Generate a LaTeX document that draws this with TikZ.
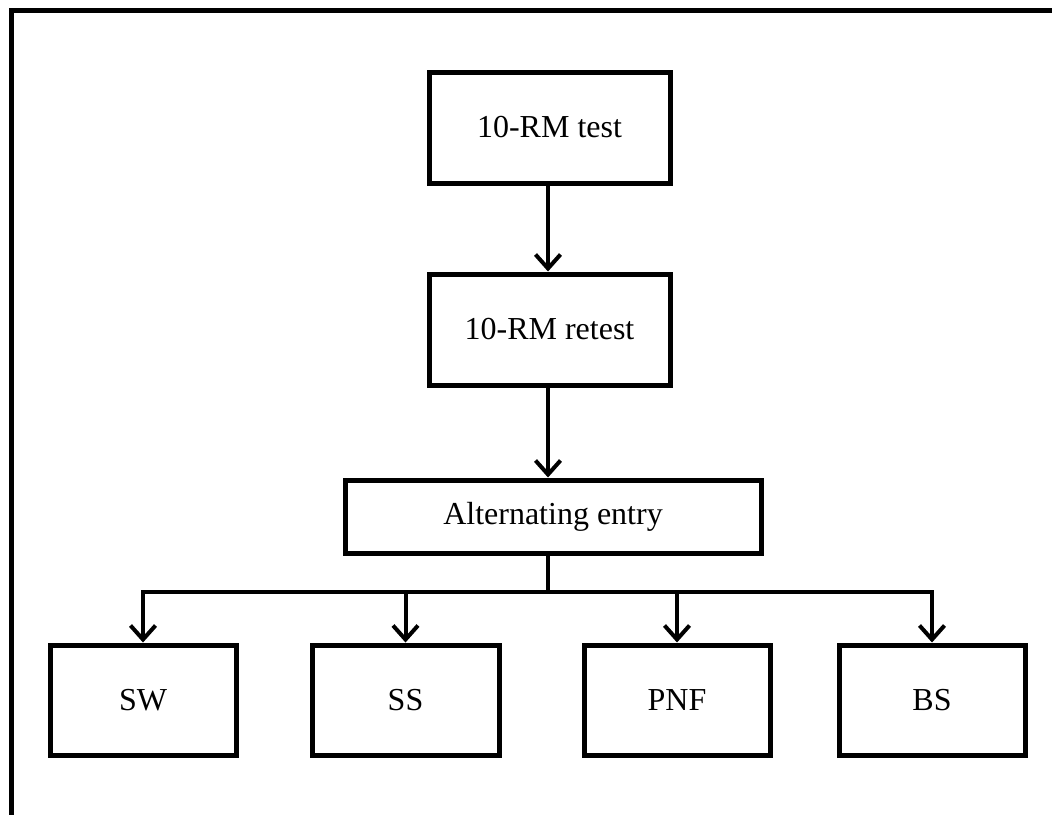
\documentclass[tikz,border=0pt]{standalone}
\usepackage{fontspec}
\setmainfont{Liberation Serif}
\usetikzlibrary{arrows.meta}
\begin{document}
\begin{tikzpicture}[x=1pt,y=-1pt,
  box/.style={draw, line width=5pt, inner sep=0pt, font=\fontsize{32}{37}\selectfont},
  conn/.style={line width=4pt, -{Straight Barb[length=14pt,width=25pt,line width=4pt]}},
  frame/.style={line width=5pt}]
\useasboundingbox (0,0) rectangle (1052,814);
\draw[frame, line join=miter] (11.5,816) -- (11.5,10) -- (1054,10);
\node[box, minimum width=241pt, minimum height=111pt] (t1) at (549.5,127.5) {10-RM test};
\node[box, minimum width=241pt, minimum height=111pt] (t2) at (549.5,329.5) {10-RM retest};
\node[box, minimum width=416pt, minimum height=73pt] (alt) at (553,516.5) {Alternating entry};
\node[box, minimum width=186pt, minimum height=110pt] (sw) at (143,700) {SW};
\node[box, minimum width=187pt, minimum height=110pt] (ss) at (405.5,700) {SS};
\node[box, minimum width=186pt, minimum height=110pt] (pnf) at (677,700) {PNF};
\node[box, minimum width=186pt, minimum height=110pt] (bs) at (932,700) {BS};
\coordinate (hub) at (548,592);
\draw[conn] (t1.south -| 548,0) -- (t2.north -| 548,0);
\draw[conn] (t2.south -| 548,0) -- (alt.north -| 548,0);
\draw[line width=4pt] (alt.south -| hub) -- (hub);
\draw[line width=4pt, line cap=rect] (sw.north |- hub) -- (bs.north |- hub);
\draw[conn] (sw.north |- hub) -- (sw.north);
\draw[conn] (ss.north |- hub) -- (ss.north);
\draw[conn] (pnf.north |- hub) -- (pnf.north);
\draw[conn] (bs.north |- hub) -- (bs.north);
\end{tikzpicture}
\end{document}
